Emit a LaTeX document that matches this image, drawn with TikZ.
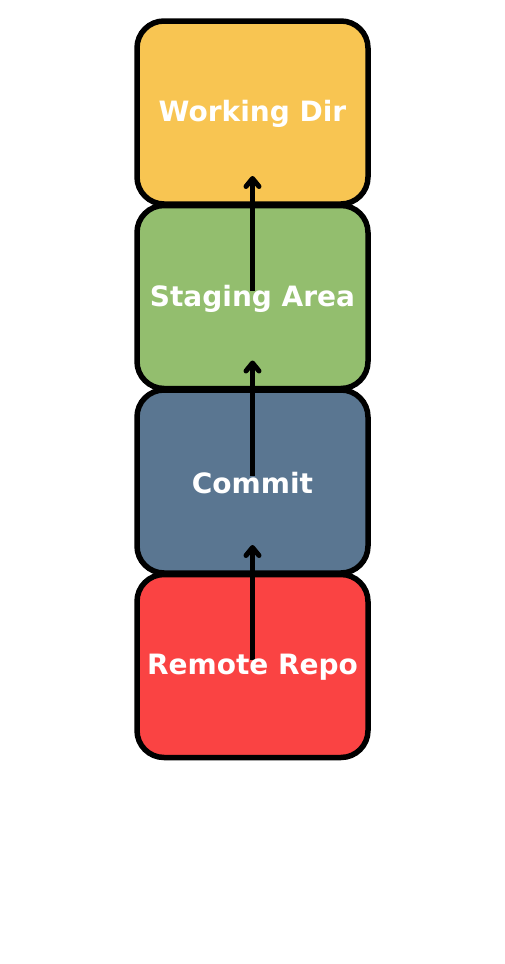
\documentclass[tikz,border=0pt]{standalone}
\usepackage{fontspec}
\newfontfamily\stagefont{DejaVu Sans}
\usetikzlibrary{positioning,arrows.meta}
\definecolor{WorkYellow}{HTML}{F8C552}
\definecolor{StageGreen}{HTML}{93BE6E}
\definecolor{CommitSlate}{HTML}{5A7691}
\definecolor{RemoteRed}{HTML}{FA4343}
\begin{document}
\begin{tikzpicture}[
    stage/.style={draw=black,line width=5.5pt,rounded corners=27pt,
      minimum width=231pt,minimum height=183pt,outer sep=0pt},
    stagetext/.style={text=white,font=\stagefont\bfseries\fontsize{28}{34}\selectfont},
    flow/.style={line width=5pt,
      -{Straight Barb[length=8pt,width=13pt,line width=5pt,round]}}]%
  \coordinate (A) at (0,0); \coordinate (B) at (505pt,-964pt);
  \path[use as bounding box] (A) rectangle (B);
  \node[stage,fill=WorkYellow] (work) at (252.5pt,-112.5pt) {};
  \node[stage,fill=StageGreen,below=1.5pt of work] (staging) {};
  \node[stage,fill=CommitSlate,below=1.5pt of staging] (commit) {};
  \node[stage,fill=RemoteRed,below=1.5pt of commit] (remote) {};
  \draw[flow] ([yshift=6pt]staging.center) -- ([yshift=28pt]work.south);
  \draw[flow] ([yshift=6pt]commit.center) -- ([yshift=28pt]staging.south);
  \draw[flow] ([yshift=6pt]remote.center) -- ([yshift=28pt]commit.south);
  \node[stagetext] (worktext) at ([yshift=-1.5pt]work) {Working Dir};
  \node[stagetext] (stagingtext) at ([yshift=-1.5pt]staging) {Staging Area};
  \node[stagetext] (committext) at ([yshift=-1.5pt]commit) {Commit};
  \node[stagetext] (remotetext) at ([yshift=-1.5pt]remote) {Remote Repo};
\end{tikzpicture}
\end{document}
